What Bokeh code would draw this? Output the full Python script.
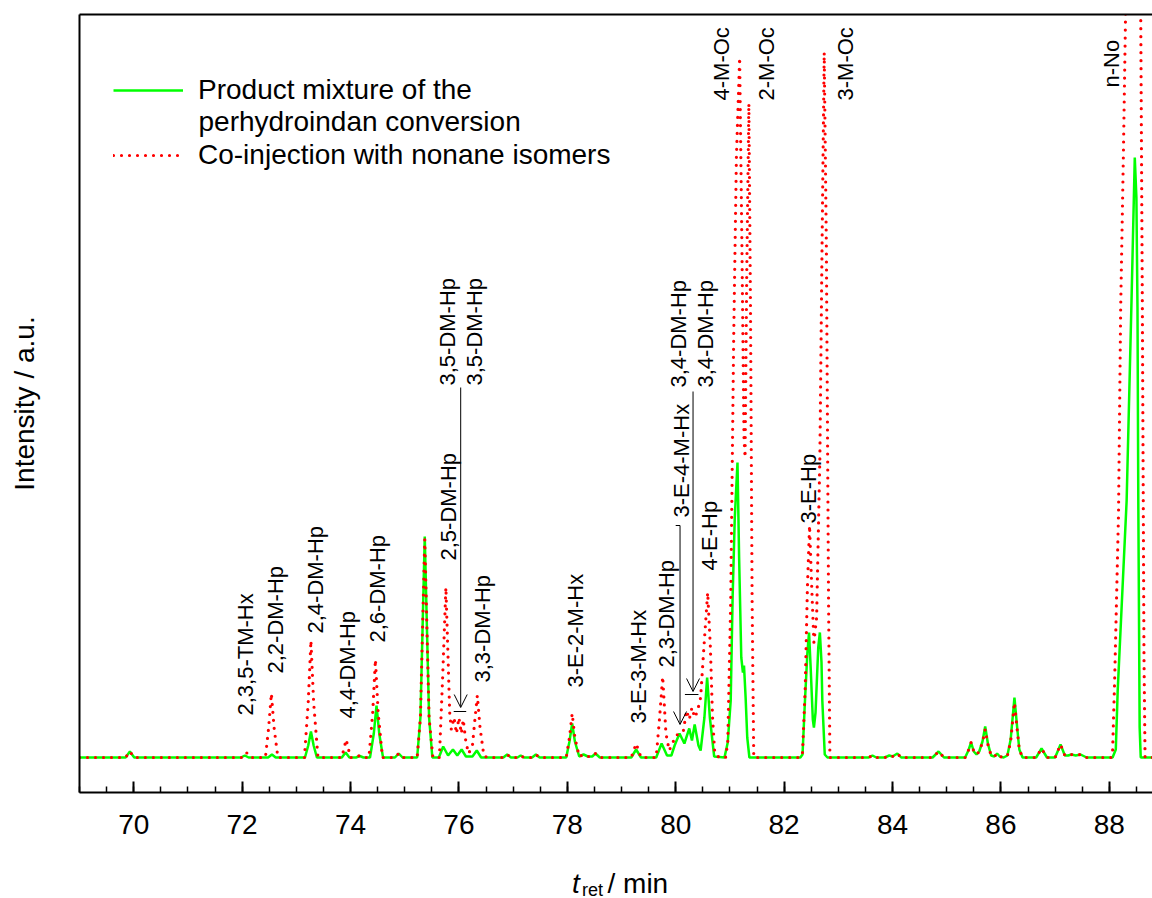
import math
from bokeh.plotting import figure
from bokeh.layouts import column
from bokeh.models import (Range1d, LinearAxis, FixedTicker, SingleIntervalTicker,
                          Legend, LegendItem, Label, Arrow, OpenHead)
from bokeh.core.properties import value
from bokeh.embed import file_html
from bokeh.resources import INLINE

FONT = "Liberation Sans"

# ---------------- data (retention time in min, intensity in a.u.) ----------------
product_t = [69.0, 69.85, 69.93, 70.01, 71.98, 72.05, 72.12, 72.48, 72.55, 72.62,
             73.16, 73.22, 73.27, 73.32, 73.38, 73.84, 73.91, 73.98, 74.10, 74.17, 74.24,
             74.36, 74.43, 74.48, 74.53, 74.60, 74.82, 74.89, 74.96,
             75.23, 75.29, 75.33, 75.37, 75.41, 75.45, 75.51,
             75.63, 75.71, 75.80, 75.89, 75.97, 76.05, 76.13, 76.25, 76.33, 76.41,
             76.82, 76.89, 76.96, 77.08, 77.14, 77.20, 77.35, 77.42, 77.49,
             77.98, 78.04, 78.09, 78.14, 78.22, 78.30, 78.38, 78.46, 78.52, 78.60,
             79.18, 79.27, 79.36, 79.64, 79.74, 79.84, 79.92, 79.98, 80.07, 80.16, 80.25,
             80.30, 80.35, 80.42, 80.46, 80.53, 80.58, 80.63, 80.71,
             80.90, 80.96, 81.015, 81.05, 81.09, 81.14, 81.17, 81.21, 81.24, 81.26, 81.29, 81.32, 81.36,
             82.30, 82.34, 82.385, 82.43, 82.46, 82.49, 82.53, 82.55, 82.58, 82.63, 82.66, 82.69,
             82.705, 82.75, 82.80,
             83.56, 83.63, 83.70, 83.86, 83.94, 84.00, 84.09, 84.16, 84.74, 84.85, 84.95,
             85.34, 85.40, 85.45, 85.50, 85.55, 85.60, 85.66, 85.71, 85.76, 85.82, 85.88, 85.93,
             85.98, 86.05, 86.12, 86.18, 86.25, 86.30, 86.34, 86.40, 86.65, 86.75, 86.85,
             87.00, 87.10, 87.18, 87.24, 87.30, 87.38, 87.47, 87.58,
             88.06, 88.12, 88.155, 88.32, 88.41, 88.47, 88.50, 88.52, 88.535, 88.56, 88.58, 88.797]
product_i = [0, 0, 6, 0, 0, 2, 0, 0, 3, 0,
             0, 12, 26, 12, 0, 0, 5, 0, 0, 1.5, 0,
             0, 24, 52, 24, 0, 0, 4, 0,
             0, 40, 130, 221, 130, 40, 0,
             0, 11, 2, 8, 2, 8, 1, 1, 7, 0,
             0, 3, 0, 0, 2, 0, 0, 3, 0,
             0, 16, 34, 16, 1, 3, 1, 1, 4, 0,
             0, 8, 0, 0, 14, 2, 2, 12, 24, 14, 29,
             17, 33, 12, 7, 40, 80, 40, 1,
             0, 15, 57, 160, 240, 295, 200, 100, 85, 92, 60, 20, 0,
             0, 3, 57, 105, 125, 90, 38, 30, 45, 110, 125, 95,
             57, 3, 0,
             0, 2, 0, 0, 2, 1, 4, 0, 0, 6, 0,
             0, 7, 15, 6, 3, 6, 16, 31, 14, 2, 1, 4,
             1, 0, 2, 18, 60, 30, 8, 0, 0, 9, 0,
             0, 13, 2, 2, 3, 2, 3, 0,
             0, 8, 67, 257, 457, 600, 560, 450, 257, 30, 0, 0]

coinj_t = [69.0, 69.85, 69.93, 70.01, 72.00, 72.08, 72.15, 72.43, 72.49, 72.54, 72.59, 72.66,
           73.15, 73.22, 73.27, 73.32, 73.40, 73.84, 73.92, 74.00, 74.10, 74.17, 74.24,
           74.34, 74.41, 74.46, 74.51, 74.59, 74.82, 74.89, 74.96,
           75.23, 75.29, 75.33, 75.37, 75.41, 75.45, 75.52,
           75.64, 75.70, 75.76, 75.80, 75.83, 75.86, 75.91, 75.955, 76.00, 76.045, 76.08, 76.13,
           76.18, 76.25, 76.29, 76.34, 76.39, 76.46, 76.52,
           76.82, 76.89, 76.96, 77.08, 77.14, 77.20, 77.35, 77.42, 77.49,
           77.98, 78.04, 78.09, 78.14, 78.22, 78.30, 78.38, 78.46, 78.52, 78.60,
           79.18, 79.27, 79.36, 79.64, 79.70, 79.76, 79.82, 79.88, 79.94, 80.00, 80.08, 80.14,
           80.20, 80.25, 80.30, 80.35, 80.40, 80.46, 80.52, 80.59, 80.64, 80.68, 80.72, 80.80,
           80.92, 80.96, 81.015, 81.07, 81.12, 81.18, 81.22, 81.26, 81.28, 81.31, 81.35, 81.38,
           81.41, 81.44,
           82.30, 82.34, 82.39, 82.43, 82.47, 82.51, 82.55, 82.60, 82.66, 82.70, 82.74, 82.78,
           82.82, 82.845,
           83.56, 83.63, 83.70, 83.86, 83.94, 84.00, 84.09, 84.16, 84.74, 84.85, 84.95,
           85.34, 85.40, 85.45, 85.50, 85.55, 85.60, 85.66, 85.71, 85.76, 85.82, 85.88, 85.93,
           85.98, 86.05, 86.12, 86.18, 86.25, 86.30, 86.34, 86.40, 86.65, 86.75, 86.85,
           87.00, 87.10, 87.18, 87.24, 87.30, 87.38, 87.47, 87.58,
           88.03, 88.06, 88.10, 88.17, 88.21, 88.26, 88.30, 88.44, 88.58, 88.61, 88.64, 88.66, 88.797]
coinj_i = [0, 0, 6, 0, 0, 5, 0, 0, 30, 64, 30, 0,
           0, 55, 117, 55, 0, 0, 18, 0, 0, 2, 0,
           0, 45, 98, 45, 0, 0, 4, 0,
           0, 40, 130, 218, 130, 40, 0,
           0, 80, 170, 100, 45, 28, 40, 24, 40, 24, 38, 15,
           4, 12, 35, 62, 30, 2, 0,
           0, 3, 0, 0, 2, 0, 0, 3, 0,
           0, 20, 44, 20, 1, 3, 1, 1, 4, 0,
           0, 14, 0, 0, 38, 81, 24, 7, 14, 22, 24, 26,
           47, 38, 50, 40, 46, 60, 110, 165, 110, 40, 5, 0,
           0, 15, 157, 420, 600, 700, 520, 320, 300, 480, 654, 450,
           157, 0,
           0, 5, 70, 170, 232, 170, 115, 140, 300, 510, 705, 510,
           157, 0,
           0, 2, 0, 0, 2, 1, 4, 0, 0, 6, 0,
           0, 7, 15, 6, 3, 6, 15, 28, 13, 2, 1, 4,
           1, 0, 2, 16, 55, 28, 8, 0, 0, 9, 0,
           0, 13, 2, 2, 3, 2, 3, 0,
           0, 5, 80, 244, 450, 603, 743, 980, 743, 450, 100, 0, 0]

series_names = ["Product mixture of the", "perhydroindan conversion",
                "Co-injection with nonane isomers"]

x_ticks_interval = 2

# peak annotations: name, label x (min), label start (a.u.)
peak_names = ["2,3,5-TM-Hx", "2,2-DM-Hp", "2,4-DM-Hp", "4,4-DM-Hp", "2,6-DM-Hp",
              "2,5-DM-Hp", "3,3-DM-Hp", "3,5-DM-Hp", "3,5-DM-Hp", "3-E-2-M-Hx",
              "3-E-3-M-Hx", "2,3-DM-Hp", "3-E-4-M-Hx", "3,4-DM-Hp", "3,4-DM-Hp",
              "4-E-Hp", "4-M-Oc", "2-M-Oc", "3-M-Oc", "3-E-Hp", "n-No"]
peak_label_x = [72.066, 72.62, 73.358, 73.948, 74.493,
                75.812, 76.439, 75.793, 76.282, 78.155,
                79.317, 79.834, 80.111, 80.055, 80.554,
                80.627, 80.849, 81.679, 83.137, 82.454, 88.044]
peak_label_y = [42, 84, 124, 39, 115,
                197, 75, 372, 372, 70,
                34, 90, 240, 370, 370,
                187, 657, 657, 657, 234, 670]

x_title_parts = ["t", "ret", "/ min"]

# ---------------- main figure ----------------
X_RANGE = Range1d(69.0, 88.797)

p = figure(width=1152, height=860, output_backend="svg", toolbar_location=None,
           x_range=X_RANGE, y_range=Range1d(-35, 743),
           min_border_left=79, min_border_right=0, min_border_top=14, min_border_bottom=68)
p.grid.visible = False
p.outline_line_color = None
p.background_fill_color = "white"
p.border_fill_color = "white"

g = p.line(product_t, product_i, line_color="#00ff00", line_width=2.5)
r = p.line(coinj_t, coinj_i, line_color="#ff0000", line_width=3.2,
           line_dash="0 8", line_cap="round")

# x axis
xa = p.xaxis[0]
xa.ticker = SingleIntervalTicker(interval=x_ticks_interval, num_minor_ticks=4)
xa.axis_line_width = 2
xa.axis_line_color = "black"
xa.major_tick_in = 11
xa.major_tick_out = 0
xa.minor_tick_in = 6
xa.minor_tick_out = 0
xa.major_tick_line_width = 2
xa.minor_tick_line_width = 1.5
xa.major_tick_line_color = "black"
xa.minor_tick_line_color = "black"
xa.major_label_text_font = FONT
xa.major_label_text_font_size = "28px"
xa.major_label_text_color = "black"
xa.major_label_standoff = 22

# y axis
ya = p.yaxis[0]
ya.ticker = FixedTicker(ticks=[])
ya.axis_line_width = 2
ya.axis_line_color = "black"
ya.major_tick_out = 0
ya.major_tick_in = 0
ya.axis_label = "Intensity / a.u."
ya.axis_label_text_font = FONT
ya.axis_label_text_font_size = "28px"
ya.axis_label_text_font_style = "normal"
ya.axis_label_text_color = "black"
ya.axis_label_standoff = 40

# top border line
top = LinearAxis(ticker=FixedTicker(ticks=[]), axis_line_width=2, axis_line_color="black",
                 major_tick_in=0, major_tick_out=0, major_label_text_font_size="0px")
p.add_layout(top, "above")


def xpos(px):
    return 69.0 + (px - 79) / 54.2


# peak labels
p.text(x=peak_label_x, y=peak_label_y, text=peak_names, angle=math.pi / 2,
       text_font=value(FONT), text_font_size="22px", text_align="left",
       text_baseline="middle", text_color="black")

# arrows and bars
for xs, ys, ye in [(76.033, 370, 50), (80.08, 232, 33), (80.32, 366, 66)]:
    p.add_layout(Arrow(end=OpenHead(size=13, line_width=1, line_color="black"),
                       x_start=xs, y_start=ys, x_end=xs, y_end=ye,
                       line_width=1, line_color="black"))
p.segment(x0=[75.904, 80.17, 80.0], y0=[46, 63, 232], x1=[76.135, 80.42, 80.08],
          y1=[46, 63, 232], line_color="black", line_width=1)

# legend
legend = Legend(items=[LegendItem(label=series_names[0], renderers=[g]),
                       LegendItem(label=series_names[2], renderers=[r])],
                location=(34, 621), orientation="vertical", glyph_width=70, glyph_height=32,
                label_height=32, label_standoff=15, spacing=33, padding=0, margin=0,
                border_line_color=None, background_fill_alpha=0,
                label_text_font=FONT, label_text_font_size="28px", label_text_color="black")
p.add_layout(legend)
p.add_layout(Label(x=xpos(198), y=757 - 121, text=series_names[1], text_font=FONT,
                   text_font_size="28px", text_baseline="middle", text_color="black"))

# ---------------- x-axis title strip (t_ret / min) ----------------
p2 = figure(width=1152, height=38, output_backend="svg", toolbar_location=None,
            x_range=X_RANGE, y_range=Range1d(0, 38),
            x_axis_location=None, y_axis_location=None,
            min_border_left=79, min_border_right=0, min_border_top=0, min_border_bottom=0)
p2.grid.visible = False
p2.outline_line_color = None
p2.background_fill_color = "white"
p2.border_fill_color = "white"
p2.text(x=[xpos(571.5)], y=[15], text=[x_title_parts[0]], text_font=value(FONT),
        text_font_size="28px", text_font_style="italic", text_baseline="alphabetic",
        text_color="black")
p2.text(x=[xpos(581.5)], y=[9], text=[x_title_parts[1]], text_font=value(FONT),
        text_font_size="18px", text_baseline="alphabetic", text_color="black")
p2.text(x=[xpos(607)], y=[15], text=[x_title_parts[2]], text_font=value(FONT),
        text_font_size="28px", text_baseline="alphabetic", text_color="black")

layout = column(p, p2, spacing=0)
open("out.html", "w").write(file_html(layout, INLINE))
